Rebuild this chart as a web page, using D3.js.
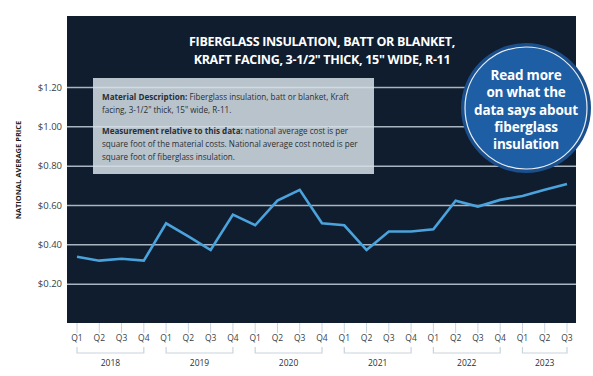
<!DOCTYPE html>
<html>
<head>
<meta charset="utf-8">
<script src="https://cdn.jsdelivr.net/npm/d3@7"></script>
<style>
  body { margin: 0; background: #fff; }
  text { font-family: "Open Sans", sans-serif; }
</style>
</head>
<body>
<div id="chart"></div>
<script>
// * Data
var years = ["2018", "2019", "2020", "2021", "2022", "2023"];
var quarters = ["Q1", "Q2", "Q3", "Q4"];
var prices = [0.337, 0.317, 0.327, 0.317,
              0.507, 0.44, 0.371, 0.551,
              0.497, 0.622, 0.677, 0.507,
              0.497, 0.371, 0.465, 0.465,
              0.477, 0.622, 0.592, 0.626,
              0.646, 0.677, 0.707];
var yTicks = [0.2, 0.4, 0.6, 0.8, 1.0, 1.2];
var titleLines = ["FIBERGLASS INSULATION, BATT OR BLANKET,", "KRAFT FACING, 3-1/2\" THICK, 15\" WIDE, R-11"];
var circleLines = ["Read more", "on what the", "data says about", "fiberglass", "insulation"];

// build period list
var periods = [];
prices.forEach(function (v, i) {
  periods.push({ id: i, year: years[Math.floor(i / 4)], q: quarters[i % 4], value: v });
});

var W = 593, H = 376;
var panel = { left: 67, top: 16, right: 576, bottom: 323 };

var svg = d3.select("#chart").append("svg").attr("width", W).attr("height", H);

var x = d3.scaleLinear().domain([0, prices.length - 1]).range([77, 567]);
var y = d3.scaleLinear().domain([0, 1.2]).range([panel.bottom, 87]);

// * panel background
svg.append("rect")
  .attr("x", panel.left).attr("y", panel.top)
  .attr("width", panel.right - panel.left).attr("height", panel.bottom - panel.top)
  .attr("fill", "#0f1d2e");

// * gridlines + y labels
var yAxis = svg.append("g")
  .attr("transform", "translate(" + panel.left + ",0)")
  .call(d3.axisLeft(y).tickValues(yTicks).tickSize(-(panel.right - panel.left))
    .tickFormat(function (d) { return "$" + d.toFixed(2); }));
yAxis.select(".domain").remove();
yAxis.selectAll("line").attr("stroke", "#a9b5c0").attr("stroke-width", 1.5);
yAxis.selectAll("text").attr("x", -5).attr("fill", "#3a3f45")
  .style("font-size", "9.5px").style("font-family", "Open Sans, sans-serif");

svg.append("text")
  .attr("transform", "translate(21," + 170 + ") rotate(-90)")
  .attr("text-anchor", "middle")
  .style("font-size", "7.5px").style("font-weight", "bold").attr("fill", "#1a1a1a")
  .text("NATIONAL AVERAGE PRICE");

// * title
svg.append("g").selectAll("text").data(titleLines).enter().append("text")
  .attr("x", 322).attr("y", function (d, i) { return 46 + i * 18; })
  .attr("text-anchor", "middle").attr("fill", "#fff")
  .style("font-size", "12.5px").style("font-weight", "bold").style("letter-spacing", "-0.3px")
  .text(function (d) { return d; });

// * info box
svg.append("rect")
  .attr("x", 93).attr("y", 78).attr("width", 281).attr("height", 96)
  .attr("fill", "#d6e0e8").attr("opacity", 0.85);

var info = svg.append("g").style("font-size", "8.1px").attr("fill", "#2a2f35");
var l1 = info.append("text").attr("x", 102).attr("y", 100);
l1.append("tspan").style("font-weight", "bold").text("Material Description: ");
l1.append("tspan").text("Fiberglass insulation, batt or blanket, Kraft");
info.append("text").attr("x", 102).attr("y", 113).text("facing, 3-1/2\" thick, 15\" wide, R-11.");
var l3 = info.append("text").attr("x", 102).attr("y", 134);
l3.append("tspan").style("font-weight", "bold").text("Measurement relative to this data: ");
l3.append("tspan").text("national average cost is per");
info.append("text").attr("x", 102).attr("y", 147).text("square foot of the material costs. National average cost noted is per");
info.append("text").attr("x", 102).attr("y", 160).text("square foot of fiberglass insulation.");

// * line
var line = d3.line()
  .x(function (d) { return x(d.id); })
  .y(function (d) { return y(d.value); });

svg.append("path")
  .datum(periods)
  .attr("d", line)
  .attr("fill", "none")
  .attr("stroke", "#4aa3dc")
  .attr("stroke-width", 2.6)
  .attr("stroke-linejoin", "miter");

// * circle call-out
var cg = svg.append("g").attr("transform", "translate(526,108)");
cg.append("circle").attr("r", 65).attr("fill", "#1b4f8c");
cg.append("circle").attr("r", 61).attr("fill", "#1e5ea4").attr("stroke", "#e6eef6").attr("stroke-width", 1.2);
cg.selectAll("text.c").data(circleLines).enter().append("text")
  .attr("class", "c")
  .attr("y", function (d, i) { return -28 + i * 17.3; })
  .attr("text-anchor", "middle").attr("fill", "#fff")
  .style("font-family", "'Liberation Sans Narrow', 'Open Sans', sans-serif")
  .style("font-size", "13.5px").style("font-weight", "bold").style("letter-spacing", "-0.2px")
  .text(function (d) { return d; });

// * x axis: quarter ticks
var xg = svg.append("g");
xg.selectAll("line.tick").data(periods).enter().append("line")
  .attr("x1", function (d) { return x(d.id); }).attr("x2", function (d) { return x(d.id); })
  .attr("y1", panel.bottom).attr("y2", 333)
  .attr("stroke", "#c9d3dc").attr("stroke-width", 1);
xg.selectAll("text.q").data(periods).enter().append("text")
  .attr("x", function (d) { return x(d.id); }).attr("y", 341)
  .attr("text-anchor", "middle").attr("fill", "#3a3f45")
  .style("font-size", "8.5px")
  .text(function (d) { return d.q; });

// * year brackets
var yearGroups = years.map(function (yr) {
  var pts = periods.filter(function (p) { return p.year === yr; });
  return { year: yr, first: pts[0].id, last: pts[pts.length - 1].id };
});
var br = svg.append("g").selectAll("g").data(yearGroups).enter().append("g");
br.append("path")
  .attr("d", function (d) {
    var a = x(d.first), b = x(d.last);
    return "M" + a + ",347V353H" + b + "V347";
  })
  .attr("fill", "none").attr("stroke", "#c9d3dc").attr("stroke-width", 1.2);
br.append("text")
  .attr("x", function (d) { return (x(d.first) + x(d.last)) / 2; })
  .attr("y", 366).attr("text-anchor", "middle").attr("fill", "#2a2f35")
  .style("font-size", "8.5px")
  .text(function (d) { return d.year; });
</script>
</body>
</html>
